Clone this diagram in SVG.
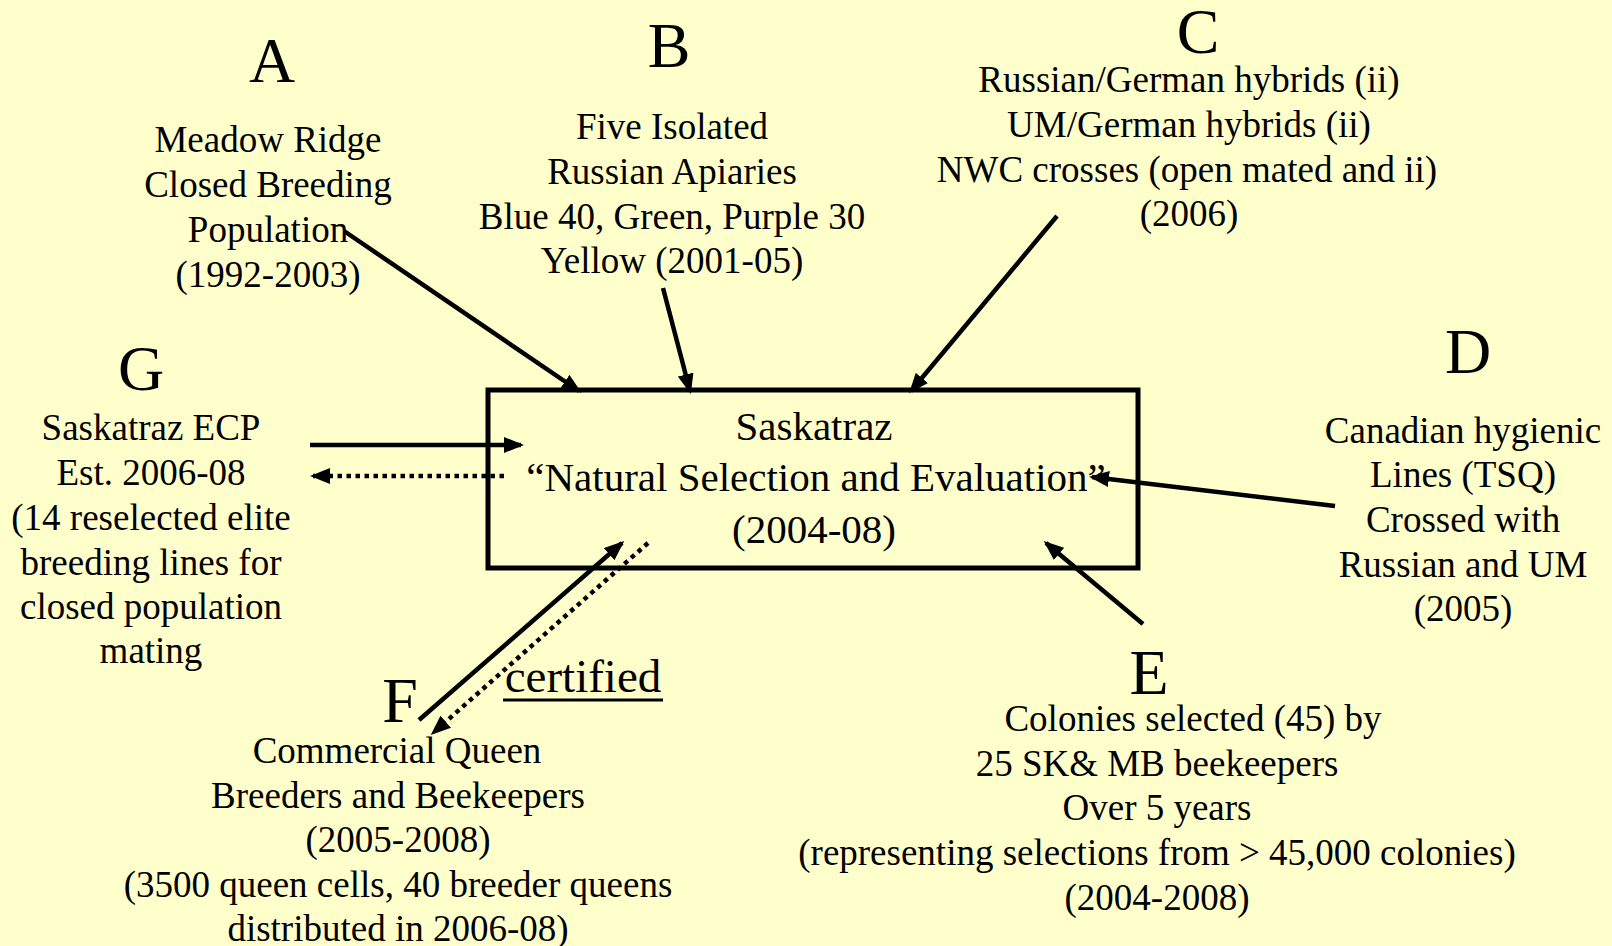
<svg xmlns="http://www.w3.org/2000/svg" width="1612" height="946" viewBox="0 0 1612 946">
<defs>
<style>
.t{font-family:"Liberation Serif","Times New Roman",serif;font-size:37px;fill:#000;text-anchor:middle}
.L{font-family:"Liberation Serif","Times New Roman",serif;font-size:64px;fill:#000;text-anchor:middle}
.bx{font-family:"Liberation Serif","Times New Roman",serif;font-size:41px;fill:#000;text-anchor:middle}
.c{stroke:#000;stroke-width:4.5;fill:none}
.d{stroke:#000;stroke-width:4.5;fill:none;stroke-dasharray:4.5 4.5}
</style>
<marker id="ah" markerWidth="20" markerHeight="16" refX="17" refY="8" orient="auto" markerUnits="userSpaceOnUse">
<path d="M0,0 L20,8 L0,16 z" fill="#000"/>
</marker>
</defs>
<rect x="0" y="0" width="1612" height="946" fill="#FFFFCC"/>

<g id="center">
<rect x="488" y="390" width="650" height="178" fill="none" stroke="#000" stroke-width="5"/>
<text class="bx"><tspan x="814" y="440">Saskatraz</tspan><tspan x="816" y="491">“Natural Selection and Evaluation”</tspan><tspan x="814" y="543">(2004-08)</tspan></text>
</g>

<g id="nodeA">
<text class="L" x="272" y="82">A</text>
<text class="t"><tspan x="268" y="152">Meadow Ridge</tspan><tspan x="268" y="197">Closed Breeding</tspan><tspan x="268" y="242">Population</tspan><tspan x="268" y="287">(1992-2003)</tspan></text>
</g>

<g id="nodeB">
<text class="L" x="669" y="67">B</text>
<text class="t"><tspan x="672" y="139">Five Isolated</tspan><tspan x="672" y="184">Russian Apiaries</tspan><tspan x="672" y="229">Blue 40, Green, Purple 30</tspan><tspan x="672" y="273">Yellow (2001-05)</tspan></text>
</g>

<g id="nodeC">
<text class="L" x="1198" y="53">C</text>
<text class="t"><tspan x="1189" y="92">Russian/German hybrids (ii)</tspan><tspan x="1189" y="137">UM/German hybrids (ii)</tspan><tspan x="1187" y="182">NWC crosses (open mated and ii)</tspan><tspan x="1189" y="226">(2006)</tspan></text>
</g>

<g id="nodeD">
<text class="L" x="1468" y="373">D</text>
<text class="t"><tspan x="1463" y="443">Canadian hygienic</tspan><tspan x="1463" y="487">Lines (TSQ)</tspan><tspan x="1463" y="532">Crossed with</tspan><tspan x="1463" y="577">Russian and UM</tspan><tspan x="1463" y="621">(2005)</tspan></text>
</g>

<g id="nodeE">
<text class="L" x="1149" y="694">E</text>
<text class="t"><tspan x="1193" y="731">Colonies selected (45) by</tspan><tspan x="1157" y="776">25 SK&amp; MB beekeepers</tspan><tspan x="1157" y="820">Over 5 years</tspan><tspan x="1157" y="865">(representing selections from &gt; 45,000 colonies)</tspan><tspan x="1157" y="910">(2004-2008)</tspan></text>
</g>

<g id="nodeF">
<text class="L" x="400" y="722">F</text>
<text class="t"><tspan x="397" y="763">Commercial Queen</tspan><tspan x="398" y="808">Breeders and Beekeepers</tspan><tspan x="398" y="852">(2005-2008)</tspan><tspan x="398" y="897">(3500 queen cells, 40 breeder queens</tspan><tspan x="398" y="941">distributed in 2006-08)</tspan></text>
</g>

<g id="nodeG">
<text class="L" x="141" y="390">G</text>
<text class="t"><tspan x="151" y="440">Saskatraz ECP</tspan><tspan x="151" y="485">Est. 2006-08</tspan><tspan x="151" y="530">(14 reselected elite</tspan><tspan x="151" y="575">breeding lines for</tspan><tspan x="151" y="619">closed population</tspan><tspan x="151" y="663">mating</tspan></text>
</g>

<g id="label-certified">
<text x="583" y="692" style="font-family:'Liberation Serif','Times New Roman',serif;font-size:47px;text-anchor:middle">certified</text>
<line x1="503" y1="700" x2="663" y2="700" stroke="#000" stroke-width="3"/>
</g>

<g id="connectors">
<line class="c" x1="344" y1="231" x2="579" y2="391" marker-end="url(#ah)"/>
<line class="c" x1="663" y1="288" x2="690" y2="391" marker-end="url(#ah)"/>
<line class="c" x1="1057" y1="216" x2="911" y2="391" marker-end="url(#ah)"/>
<line class="c" x1="1335" y1="506" x2="1092" y2="477" marker-end="url(#ah)"/>
<line class="c" x1="1143" y1="624" x2="1046" y2="543" marker-end="url(#ah)"/>
<line class="c" x1="310" y1="445" x2="521" y2="445" marker-end="url(#ah)"/>
<line class="d" x1="504" y1="476" x2="313" y2="476" marker-end="url(#ah)"/>
<line class="c" x1="419" y1="720" x2="622" y2="543" marker-end="url(#ah)"/>
<line class="d" x1="648" y1="543" x2="433" y2="733" marker-end="url(#ah)"/>
</g>
</svg>
